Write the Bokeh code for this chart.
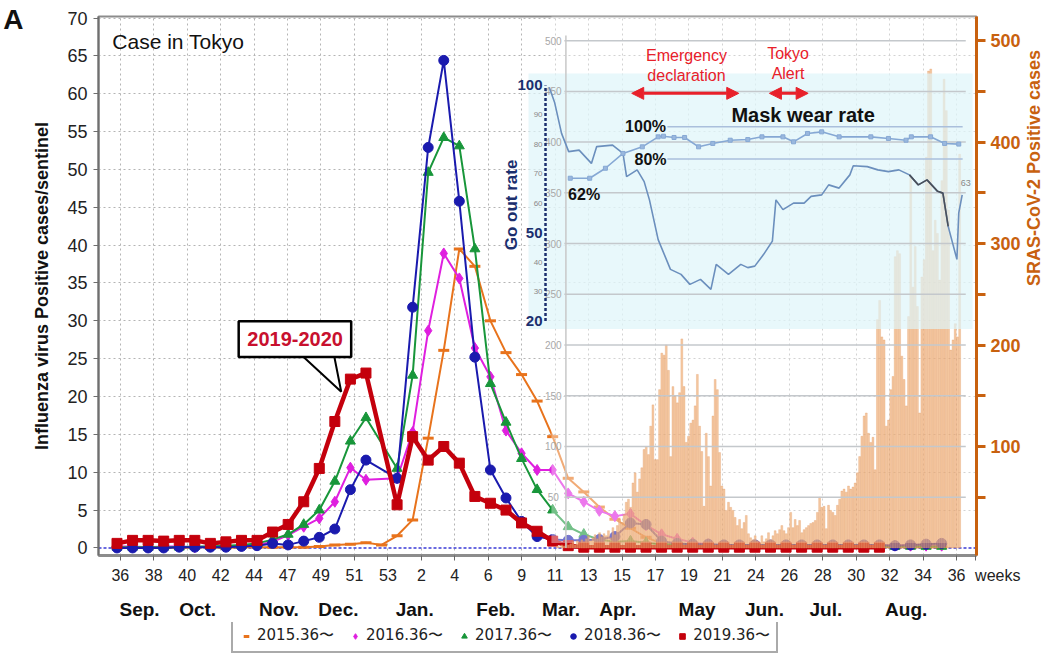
import math
from bokeh.plotting import figure
from bokeh.layouts import column
from bokeh.models import (Range1d, LinearAxis, FixedTicker, Arrow, NormalHead,
                          Legend, LegendItem)
from bokeh.core.properties import value
from bokeh.embed import file_html
from bokeh.resources import INLINE

# ---------------- data ----------------
week_tick_labels = ["36", "38", "40", "42", "44", "47", "49", "51", "53", "2", "4", "6", "9",
                    "11", "13", "15", "17", "19", "21", "24", "26", "28", "30", "32", "34", "36"]
month_labels = ["Sep.", "Oct.", "Nov.", "Dec.", "Jan.", "Feb.", "Mar.", "Apr.", "May",
                "Jun.", "Jul.", "Aug."]
season_labels = ["2015.36〜", "2016.36〜", "2017.36〜", "2018.36〜", "2019.36〜"]

# influenza positive cases / sentinel, one value per week slot (36 .. 53, 1 .. 36)
flu_2015 = [0.1, 0.1, 0.1, 0.1, 0.0, 0.1, 0.1, 0.0, 0.1, 0.1, 0.1, 0.1, 0.1,
            0.2, 0.4, 0.5, 0.7, 0.4, 1.6, 3.7, 14.5, 26.1, 39.5, 37.2, 30.0, 25.8,
            22.9, 19.4, 14.7, 9.2, 7.4, 5.4, 3.8, 2.6, 1.4, 0.6, 0.3, 0.2,
            0.1, 0.1, 0.1, 0.1, 0.1, 0.1, 0.1, 0.1, 0.1, 0.1, 0.1, 0.1, 0.1, 0.1, 0.1, 0.1]
flu_2016 = [0.2, 0.2, 0.1, 0.2, 0.2, 0.1, 0.2, 0.2, 0.3, 0.4,
            0.8, 1.7, 2.8, 3.9, 6.1, 10.6, 9.0, None, 9.2, 15.3, 28.7, 38.9, 35.6, 26.4,
            22.6, 15.5, 12.5, 10.3, 10.3, 7.2, 6.1, 4.9, 4.2, 4.5, 3.0, 1.8, 1.2, 0.7, 0.5,
            0.3, 0.3, 0.3, 0.3, 0.3, 0.3, 0.3, 0.3, 0.3, 0.3, 0.3, 0.3, 0.3, 0.3, 0.3]
flu_2017 = [0.1, 0.1, 0.1, 0.1, 0.1, 0.2, 0.2, 0.3, 0.4, 0.6,
            1.1, 1.8, 3.1, 5.0, 8.8, 14.1, 17.2, None, 10.5, 22.8, 49.6, 54.2, 53.1, 39.5,
            21.7, 16.6, 11.8, 7.7, 5.0, 2.8, 1.8, 1.1, 0.8, 0.9, 0.7, 0.5, 0.4, 0.3, 0.3,
            0.2, 0.2, 0.2, 0.2, 0.2, 0.2, 0.2, 0.2, 0.2, 0.2, 0.2, 0.2, 0.2, 0.2, 0.2]
flu_2018 = [0.0, 0.0, 0.0, 0.0, 0.1, 0.1, 0.1, 0.1, 0.2, 0.3,
            0.6, 0.4, 0.9, 1.4, 2.5, 7.7, 11.6, None, 9.2, 31.8, 52.9, 64.4, 45.8, 25.2,
            10.3, 6.6, 3.5, 1.5, 1.1, 1.0, 1.0, 1.1, 1.5, 3.3, 3.1, 0.9, 0.6, 0.5, 0.5,
            0.4, 0.4, 0.4, 0.4, 0.4, 0.4, 0.4, 0.4, 0.4, 0.4, 0.4, 0.3, 0.4, 0.5, 0.6]
flu_2019 = [0.6, 1.0, 1.0, 0.9, 1.0, 1.0, 0.6, 0.8, 1.0, 1.0,
            2.1, 3.1, 6.1, 10.5, 16.7, 22.3, 23.1, None, 5.7, 14.7, 11.6, 13.4, 11.2, 6.8,
            5.9, 5.0, 3.3, 2.2, 0.9, 0.3,
            0.1, 0.1, 0.1, 0.1, 0.1, 0.1, 0.1, 0.1, 0.1, 0.1, 0.1, 0.1, 0.1, 0.1, 0.1, 0.1,
            0.1, 0.1, 0.1, 0.1, None, None, None, None]

# SARS-CoV-2 daily positive cases in Tokyo (one bar per day)
covid_daily = [2, 1, 3, 2, 5, 3, 4, 6, 3, 7, 5, 8, 6, 9, 12, 7, 10, 13, 9, 15, 11, 14,
               12, 17, 10, 20, 13, 22, 28, 25, 33, 45, 48, 40, 64, 74, 55, 68, 79, 97, 100, 92,
               120, 141, 87, 87, 156, 192, 190, 200, 175, 90, 159, 150, 143, 153, 206, 159, 104, 110, 123, 126,
               140, 171, 120, 95, 41, 113, 90, 61, 130, 166, 156, 94, 61, 58, 37, 45, 40, 37, 30, 22,
               28, 19, 25, 32, 14, 10, 8, 12, 7, 5, 12, 6, 9, 15, 8, 12, 17, 14, 18, 22,
               17, 14, 20, 35, 20, 28, 22, 27, 15, 18, 20, 22, 24, 25, 27, 35, 50, 40, 41, 19,
               42, 37, 35, 32, 42, 48, 56, 58, 55, 61, 58, 60, 64, 74, 90, 110, 130, 133, 113, 104,
               109, 77, 225, 244, 208, 205, 120, 126, 156, 169, 287, 293, 290, 189, 166, 140, 228, 365, 257, 297,
               238, 133, 267, 284, 385, 470, 472, 293, 323, 310, 264, 362, 462, 431, 333, 195, 205, 221, 208, 388]
covid_first_slot = 28.3          # week slot of the first daily bar
covid_ticks = [50, 100, 150, 200, 250, 300, 350, 400, 450, 500]

# go out rate (%) and mask wear rate (%) from the inset
go_out_week = [27.78, 28.12, 28.57, 29.03, 29.70, 30.49, 30.83, 31.85, 32.52, 32.75, 33.43, 33.88,
               34.22, 34.78, 35.57, 36.25, 36.82, 37.50, 38.17, 38.51, 39.30, 40.09, 40.54, 40.99,
               41.56, 42.12, 42.35, 42.80, 43.48, 44.16, 44.61, 45.29, 45.74, 46.41, 47.10, 47.32,
               48.22, 48.90, 49.58, 50.25, 50.93, 51.50, 52.06, 52.74, 53.08, 53.42, 53.98, 54.10, 54.32]
go_out_rate = [99.4, 94.3, 83.7, 77.5, 78.0, 73.5, 79.2, 79.7, 76.9, 69.0, 71.3, 67.3,
               61.1, 47.6, 37.5, 35.8, 32.4, 34.1, 30.7, 39.2, 35.8, 39.2, 38.1, 38.6,
               42.6, 47.1, 61.1, 57.8, 60.0, 60.0, 62.3, 62.8, 66.2, 65.1, 69.6, 72.7,
               72.4, 71.3, 70.7, 71.3, 69.6, 66.2, 67.9, 64.0, 63.4, 52.1, 40.9, 56.7, 62.8]
go_out_ticks = [20, 30, 40, 50, 60, 70, 80, 90, 100]
mask_week = [29.13, 30.38, 31.39, 32.52, 33.76, 34.78, 35.12, 35.80, 36.48, 37.38, 38.29, 39.41,
             40.54, 41.45, 42.80, 43.48, 44.38, 45.29, 46.41, 48.45, 49.58, 50.71, 51.05, 52.29,
             53.19, 54.10]
mask_rate = [68.1, 68.1, 74.3, 83.5, 87.6, 93.8, 94.2, 93.4, 93.4, 87.6, 89.7, 91.7,
             92.1, 93.8, 93.8, 90.7, 95.9, 96.9, 93.8, 93.8, 92.8, 91.7, 93.8, 93.8, 89.7, 89.3]

assert len(covid_daily) == 182 and len(go_out_week) == len(go_out_rate)
assert all(len(s) == 54 for s in (flu_2015, flu_2016, flu_2017, flu_2018, flu_2019))

# ---------------- layout ----------------
tick_pos = [0.21 + 2.15 * i for i in range(len(week_tick_labels))]
weeks_pos = 55.18                       # where the axis word "weeks" starts
month_pos = [1.45, 5.18, 10.40, 14.23, 19.13, 24.35, 28.53, 32.18, 37.28, 41.61, 45.56, 50.72]
panel_letter_pos = 69.8

SANS_S = "Liberation Sans"
SANS = value(SANS_S)
ORANGE_AX = "#c8610f"
NAVY = "#1b2f6e"

p = figure(width=1056, height=622, output_backend="svg", toolbar_location=None,
           x_range=Range1d(-1.19, 55.24), y_range=Range1d(-1.0, 70.2),
           min_border_left=93, min_border_right=77, min_border_top=16, min_border_bottom=64)
p.extra_y_ranges = {"covid": Range1d(-7.46, 523.8),
                    "go": Range1d(-59.7, 123.4),
                    "mask": Range1d(-166.1, 168.5)}
p.outline_line_color = "#8c8c8c"
p.outline_line_width = 2
p.background_fill_color = "white"
p.border_fill_color = "white"

# x axis: weeks (the word "weeks" rides on an extra tick at the right end)
xa = p.xaxis[0]
xa.ticker = FixedTicker(ticks=tick_pos + [weeks_pos])
overrides = {t: l for t, l in zip(tick_pos, week_tick_labels)}
overrides[weeks_pos] = "\u00a0" * 10 + "weeks"
xa.major_label_overrides = overrides
xa.minor_tick_line_color = None
xa.axis_line_color = "#8c8c8c"
xa.axis_line_width = 3
xa.major_tick_line_color = "#666666"
xa.major_tick_out = 5
xa.major_tick_in = 0
xa.major_label_standoff = 6
xa.major_label_text_font = SANS_S
xa.major_label_text_font_size = "16px"
xa.major_label_text_color = "#222222"

# month axis
ma = LinearAxis(ticker=FixedTicker(ticks=month_pos),
                major_label_overrides={t: l for t, l in zip(month_pos, month_labels)})
ma.axis_line_color = None
ma.major_tick_line_color = None
ma.minor_tick_line_color = None
ma.major_label_standoff = 6
ma.major_label_text_font = SANS_S
ma.major_label_text_font_style = "bold"
ma.major_label_text_font_size = "19px"
ma.major_label_text_color = "#111111"
p.add_layout(ma, "below")

# y axis (left)
ya = p.yaxis[0]
ya.ticker = FixedTicker(ticks=list(range(0, 71, 5)))
ya.minor_tick_line_color = None
ya.axis_line_color = "#6f6f6f"
ya.axis_line_width = 2
ya.major_tick_line_color = "#6f6f6f"
ya.major_tick_out = 5
ya.major_tick_in = 0
ya.major_label_standoff = 6
ya.major_label_text_font = SANS_S
ya.major_label_text_font_size = "18px"
ya.major_label_text_color = "#222222"
ya.axis_label = "Influenza virus Positive cases/sentinel"
ya.axis_label_standoff = 12
ya.axis_label_text_font = SANS_S
ya.axis_label_text_font_style = "bold"
ya.axis_label_text_font_size = "18px"
ya.axis_label_text_color = "#111111"

# panel letter "A" (outermost left axis with a single labelled tick)
la = LinearAxis(ticker=FixedTicker(ticks=[panel_letter_pos]),
                major_label_overrides={panel_letter_pos: "A"})
la.axis_line_color = None
la.major_tick_line_color = None
la.minor_tick_line_color = None
la.major_label_standoff = 0
la.major_label_text_font = SANS_S
la.major_label_text_font_style = "bold"
la.major_label_text_font_size = "28px"
la.major_label_text_color = "#111111"
p.add_layout(la, "left")

# right axis: SARS-CoV-2 cases
ra = LinearAxis(y_range_name="covid", ticker=FixedTicker(ticks=covid_ticks),
                major_label_overrides={t: ("" if t % 100 else str(t)) for t in covid_ticks})
ra.axis_line_color = ORANGE_AX
ra.axis_line_width = 3
ra.major_tick_line_color = ORANGE_AX
ra.major_tick_line_width = 3
ra.major_tick_out = 9
ra.major_tick_in = 0
ra.minor_tick_line_color = None
ra.major_label_standoff = 5
ra.major_label_text_font = SANS_S
ra.major_label_text_font_style = "bold"
ra.major_label_text_font_size = "18px"
ra.major_label_text_color = ORANGE_AX
ra.axis_label = "SRAS-CoV-2 Positive cases"
ra.axis_label_standoff = 10
ra.axis_label_text_font = SANS_S
ra.axis_label_text_font_style = "bold"
ra.axis_label_text_font_size = "18px"
ra.axis_label_text_color = ORANGE_AX
try:  # read the right title bottom-to-top, like the reference
    ra.axis_label_orientation = math.pi / 2
except Exception:
    pass
p.add_layout(ra, "right")

# grids
p.xgrid.ticker = FixedTicker(ticks=tick_pos)
p.ygrid.ticker = FixedTicker(ticks=list(range(5, 71, 5)))
for g in (p.xgrid, p.ygrid):
    g.grid_line_color = "#b4b4b4"
    g.grid_line_dash = "2 3"
    g.grid_line_width = 1

# zero line (blue dashed)
p.segment(x0=[-1.19], y0=[0], x1=[55.24], y1=[0], line_color="#3b3bd6", line_dash="3 2",
          line_width=1.5)

# ---------------- influenza series ----------------
series = [
    (flu_2015, "#e8731c", "dash", 11, 2.0),
    (flu_2016, "#df1fdf", "diamond", 11, 2.0),
    (flu_2017, "#18963a", "triangle", 10, 2.0),
    (flu_2018, "#1a1aae", "circle", 10, 2.0),
    (flu_2019, "#c4000c", "square", 10, 4.5),
]
for vals, color, marker, size, lw in series:
    xs = [k for k, v in enumerate(vals) if v is not None]
    ys = [v for v in vals if v is not None]
    p.line(xs, ys, line_color=color, line_width=lw)
    p.scatter(xs, ys, marker=marker, size=size, fill_color=color, line_color=color,
              line_width=3 if marker == "dash" else 1)

# wash of the pasted SARS-CoV-2 picture
p.quad(left=[27.92], right=[55.3], bottom=[0.66], top=[70.3], fill_color="white",
       fill_alpha=0.4, line_color=None)

# ---------------- SARS-CoV-2 daily bars ----------------
bar_x = [covid_first_slot + d / 7 for d in range(len(covid_daily))]
p.vbar(x=bar_x, top=covid_daily, bottom=0, width=0.12, y_range_name="covid",
       fill_color="#f0ac72", fill_alpha=0.65, line_color="#e0945a", line_alpha=0.6,
       line_width=0.5)

# ---------------- inset (go out / mask wear rate) ----------------
p.quad(left=[26.45], right=[54.99], bottom=[28.91], top=[62.68], fill_color="#def5fa",
       fill_alpha=0.7, line_color=None)

# ghost horizontal lines of the pasted chart (SARS-CoV-2 scale)
p.segment(x0=[28.75] * len(covid_ticks), y0=covid_ticks, x1=[54.55] * len(covid_ticks),
          y1=covid_ticks, y_range_name="covid", line_color="#c4c8cc", line_width=1.5)
p.segment(x0=[28.85], y0=[0], x1=[28.85], y1=[505], y_range_name="covid",
          line_color="#c8c8c8", line_width=1.5)
p.text(x=[28.04] * len(covid_ticks), y=covid_ticks, text=[str(t) for t in covid_ticks],
       y_range_name="covid", text_align="center", text_baseline="middle",
       text_font=SANS, text_font_size="10px", text_color="#a8a8a8")

# go-out axis
p.segment(x0=[27.54], y0=[20], x1=[27.54], y1=[100], y_range_name="go",
          line_color=NAVY, line_width=2.5, line_dash="3 2")
big = [t for t in go_out_ticks if t in (20, 50, 100)]
small = [t for t in go_out_ticks if t not in (20, 50, 100)]
p.text(x=[27.35] * len(big), y=big, text=[str(t) for t in big], y_range_name="go",
       text_align="right", text_baseline="middle", text_font=SANS, text_font_style="bold",
       text_font_size="15px", text_color=NAVY)
p.text(x=[27.35] * len(small), y=small, text=[str(t) for t in small], y_range_name="go",
       text_align="right", text_baseline="middle", text_font=SANS,
       text_font_size="8px", text_color="#8a8a8a")
p.text(x=[25.37], y=[45.3], text=["Go out rate"], angle=math.pi / 2, text_align="center",
       text_baseline="middle", text_font=SANS, text_font_style="bold",
       text_font_size="17px", text_color=NAVY)

# mask guide lines (80 %, 100 %)
p.segment(x0=[35.37, 35.37], y0=[100, 80], x1=[54.35, 54.35], y1=[100, 80],
          y_range_name="mask", line_color="#aabfdc", line_width=1.5)

# go-out line
p.line(go_out_week, go_out_rate, y_range_name="go", line_color="#6b8fbd", line_width=1.6)
p.line(go_out_week[-9:-3], go_out_rate[-9:-3], y_range_name="go", line_color="#4a4f58",
       line_width=1.6)
# mask wear line
p.line(mask_week, mask_rate, y_range_name="mask", line_color="#86a8d4", line_width=1.6)
p.scatter(mask_week, mask_rate, y_range_name="mask", marker="square", size=4,
          fill_color="#9ab8de", line_color="#86a8d4")

p.text(x=[54.55], y=[go_out_rate[-1] + 4], text=["63"], y_range_name="go",
       text_align="center", text_baseline="middle", text_font=SANS,
       text_font_size="9px", text_color="#888888")

# inset texts
p.text(x=[33.97], y=[100], text=["100%"], y_range_name="mask", text_align="center",
       text_baseline="middle", text_font=SANS, text_font_style="bold",
       text_font_size="16px", text_color="#111111")
p.text(x=[34.29], y=[80], text=["80%"], y_range_name="mask", text_align="center",
       text_baseline="middle", text_font=SANS, text_font_style="bold",
       text_font_size="16px", text_color="#111111")
p.text(x=[30.02], y=[mask_rate[0] - 10], text=["62%"], y_range_name="mask",
       text_align="center", text_baseline="middle", text_font=SANS, text_font_style="bold",
       text_font_size="16px", text_color="#111111")
p.text(x=[44.1], y=[57.16], text=["Mask wear rate"], text_align="center",
       text_baseline="middle", text_font=SANS, text_font_style="bold",
       text_font_size="20px", text_color="#111111")
p.text(x=[36.6, 36.6, 43.13, 43.13], y=[65.04, 62.42, 65.31, 62.68],
       text=["Emergency", "declaration", "Tokyo", "Alert"], text_align="center",
       text_baseline="middle", text_font=SANS, text_font_size="16px", text_color="#e8202a")

for xs, xe in ((33.08, 39.96), (41.93, 44.42)):
    p.add_layout(Arrow(x_start=xs, y_start=60.05, x_end=xe, y_end=60.05,
                       line_color="#e8202a", line_width=3,
                       start=NormalHead(size=12, fill_color="#e8202a", line_color="#e8202a"),
                       end=NormalHead(size=12, fill_color="#e8202a", line_color="#e8202a")))

# ---------------- "2019-2020" callout ----------------
p.patch(x=[11.99, 14.41, 13.97], y=[25.23, 20.63, 25.23], fill_color="white",
        line_color="black", line_width=2)
p.quad(left=[7.82], right=[15.05], bottom=[25.23], top=[29.96], fill_color="white",
       line_color="black", line_width=2.5)
p.text(x=[11.45], y=[27.6], text=["2019-2020"], text_align="center", text_baseline="middle",
       text_font=SANS, text_font_style="bold", text_font_size="20px", text_color="#c8102e")

p.text(x=[-0.3], y=[66.9], text=["Case in Tokyo"], text_align="left", text_baseline="middle",
       text_font=SANS, text_font_size="21px", text_color="#111111")

# ---------------- legend strip (own small figure below the chart) ----------------
lg = figure(width=1056, height=38, output_backend="svg", toolbar_location=None,
            x_range=Range1d(0, 1), y_range=Range1d(0, 1),
            x_axis_type=None, y_axis_type=None,
            min_border_left=0, min_border_right=0, min_border_top=0, min_border_bottom=0)
lg.grid.visible = False
lg.outline_line_color = None
lg.background_fill_color = "white"
lg.border_fill_color = "white"
items = []
for (vals, color, marker, size, lw), lab in zip(series, season_labels):
    # one sample glyph, kept outside the strip's visible range, for the legend swatch
    r = lg.scatter([-5], [-5], marker=marker, size=size, fill_color=color, line_color=color,
                   line_width=3 if marker == "dash" else 1)
    items.append(LegendItem(label=lab, renderers=[r]))
legend = Legend(items=items, orientation="horizontal", location=(133, 7))
legend.border_line_color = "#555555"
legend.border_line_width = 2
legend.background_fill_color = "white"
legend.background_fill_alpha = 1.0
legend.label_text_font = "DejaVu Sans"
legend.label_text_font_size = "15px"
legend.label_text_color = "#222222"
legend.glyph_width = 14
legend.glyph_height = 14
legend.label_standoff = 4
legend.spacing = 14
legend.padding = 6
legend.margin = 0
lg.add_layout(legend)

open("out.html", "w").write(file_html(column(p, lg, spacing=0), INLINE))
